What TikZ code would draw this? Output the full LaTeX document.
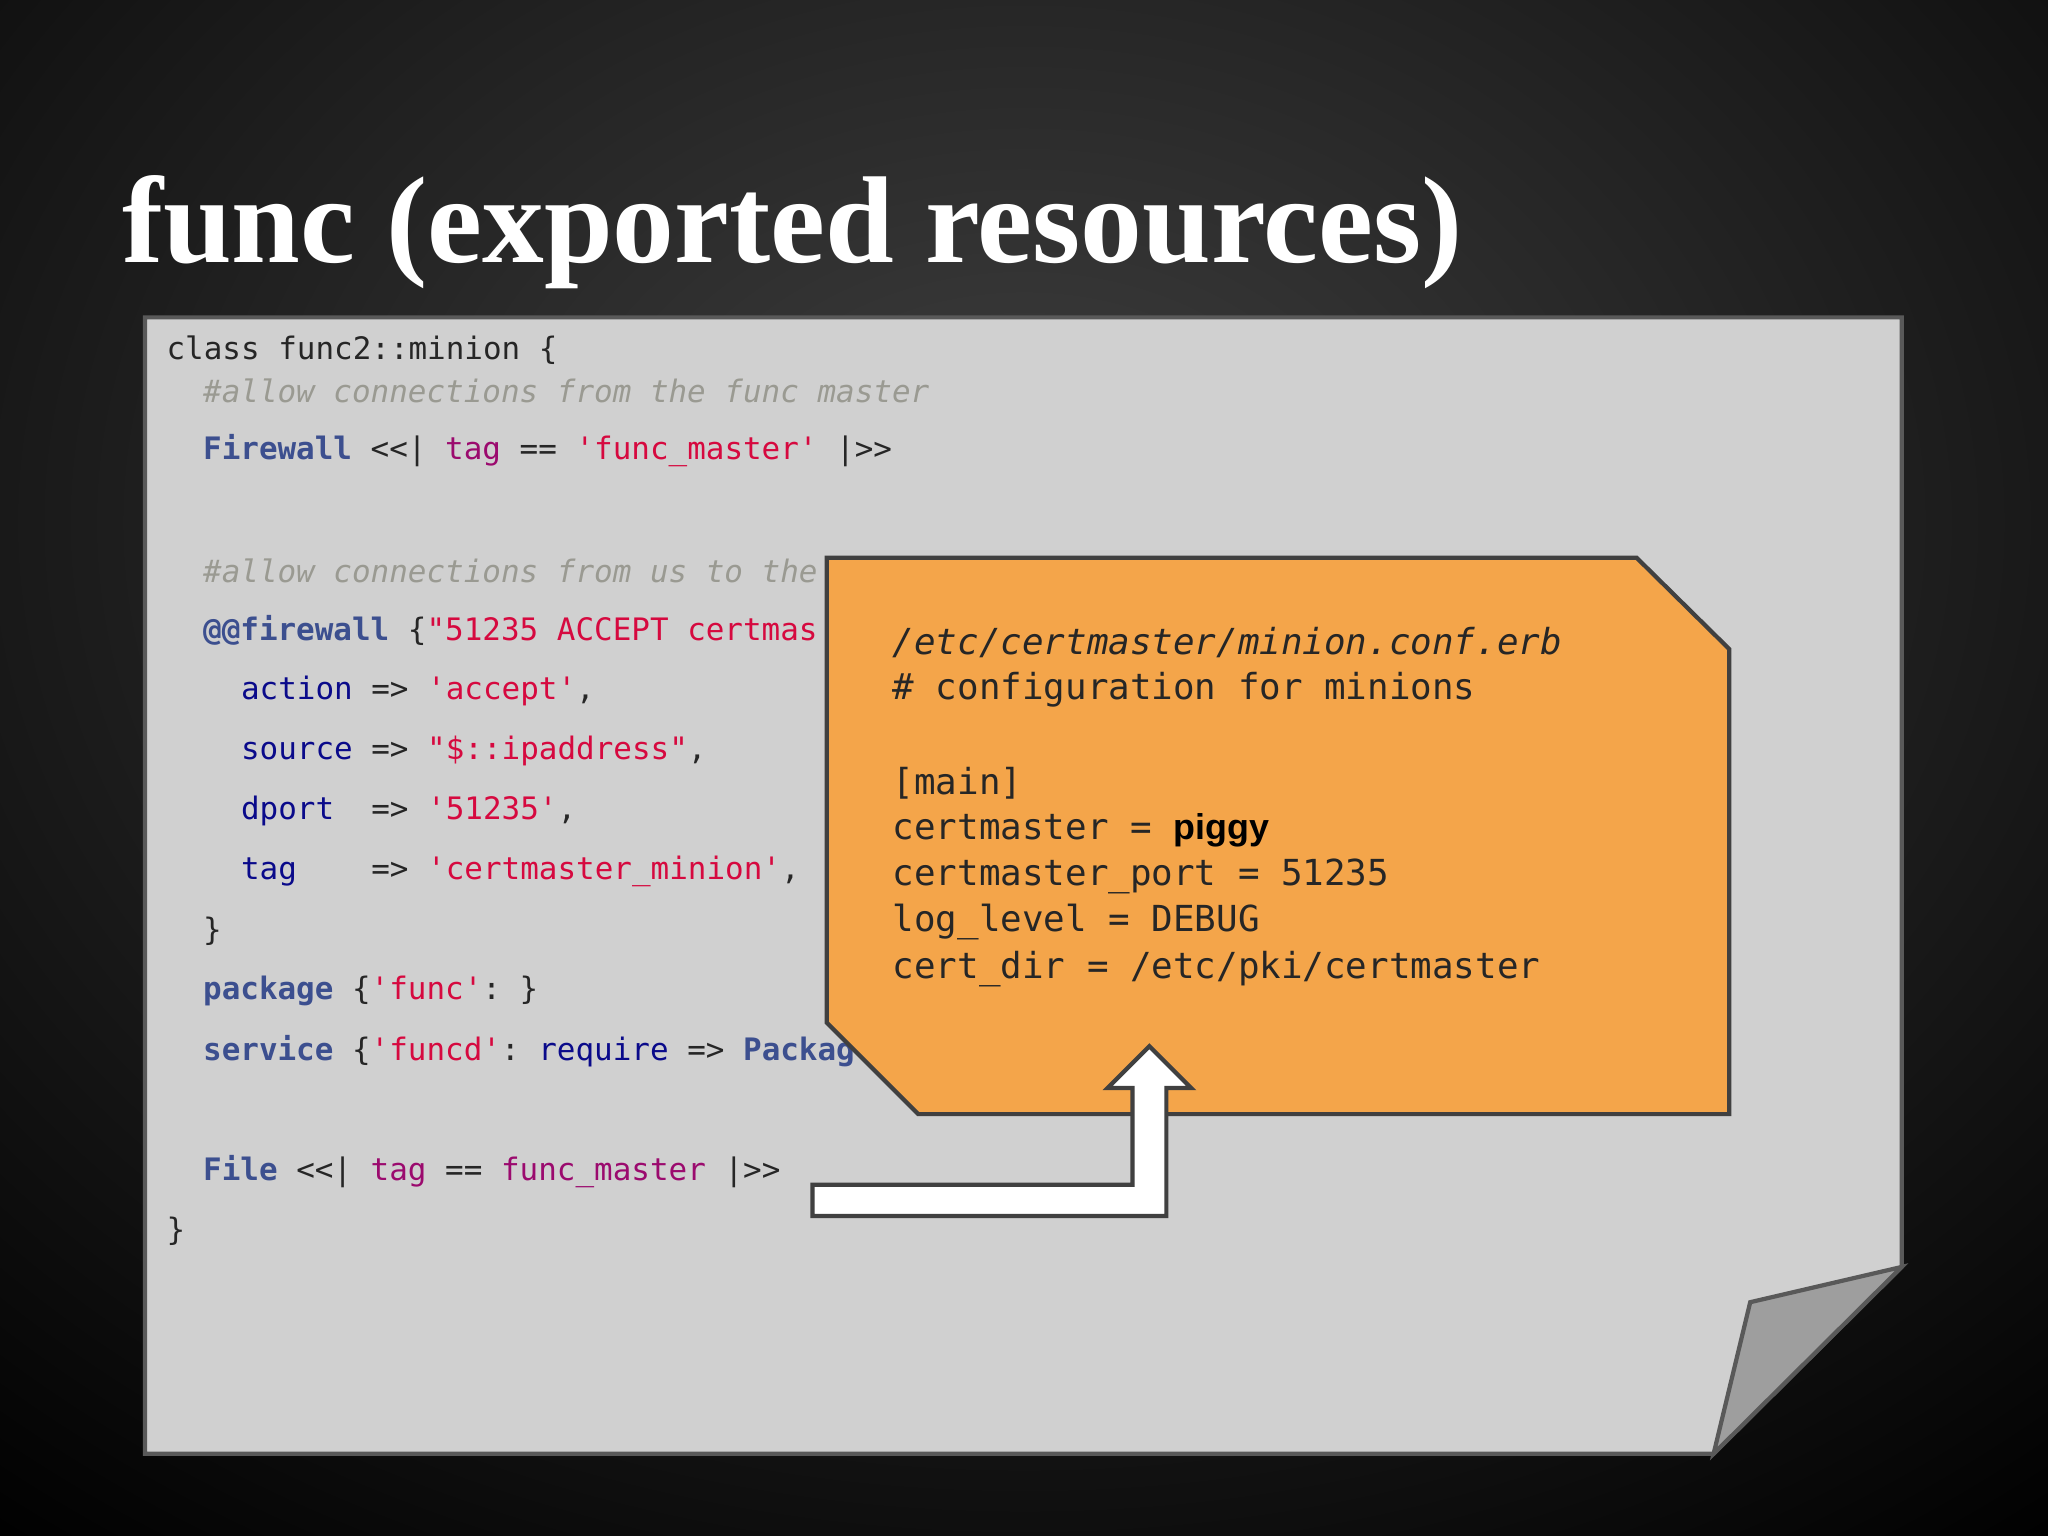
\documentclass[tikz,border=0pt]{standalone}
\usepackage{fontspec}
\setmonofont{DejaVu Sans Mono}
\setmainfont{Liberation Serif}
\usepackage{xcolor}
\definecolor{kw}{HTML}{3C4F8F}
\definecolor{tg}{HTML}{9B0A6E}
\definecolor{st}{HTML}{D6093F}
\definecolor{nv}{HTML}{0A0A8A}
\definecolor{cm}{HTML}{9A9A92}
\definecolor{paper}{HTML}{D0D0D0}
\definecolor{orng}{HTML}{F4A54A}
\newcommand{\K}[1]{\textcolor{kw}{\bfseries #1}}
\newcommand{\T}[1]{\textcolor{tg}{#1}}
\newcommand{\Sx}[1]{\textcolor{st}{#1}}
\newcommand{\N}[1]{\textcolor{nv}{#1}}
\newcommand{\Cm}[1]{\textcolor{cm}{\itshape #1}}
\begin{document}
\begin{tikzpicture}[x=0.013061cm,y=-0.013061cm,
  code/.style={anchor=west,inner sep=0pt,font=\ttfamily\fontsize{8.8}{10}\selectfont,text=black!85},
  conf/.style={anchor=west,inner sep=0pt,font=\ttfamily\fontsize{10.2}{12}\selectfont,text=black!85}]
\useasboundingbox (0,0) rectangle (1568,1176);
\shade[inner color=black!75,outer color=black!100] (-500,-600) rectangle (2068,1400);
\node[anchor=west,inner sep=0pt,text=white] (title) at (93,178)
 {\resizebox{13.4cm}{!}{\bfseries func (exported resources)}};
\draw[black!65,line width=1.2pt,fill=paper] (111,243) -- (1456,243) -- (1456,970) -- (1312,1113) -- (111,1113) -- cycle;
\draw[black!65,line width=1.2pt,fill=black!38] (1340,997) -- (1456,970) -- (1312,1113) -- cycle;
\node[code] (l1) at (127,268) {class func2::minion \{};
\node[code] (l2) at (155,299) {\Cm{\#allow connections from the func master}};
\node[code] (l3) at (155,345) {\K{Firewall} <<| \T{tag} == \Sx{'func\_master'} |>>};
\node[code] (l4) at (155,437) {\Cm{\#allow connections from us to the}};
\node[code] (l5) at (155,483) {\K{@@firewall} \{\Sx{"51235 ACCEPT certmas}};
\node[code] (l6) at (184,529) {\N{action} => \Sx{'accept'},};
\node[code] (l7) at (184,575) {\N{source} => \Sx{"\$::ipaddress"},};
\node[code] (l8) at (184,621) {\N{dport}~~=> \Sx{'51235'},};
\node[code] (l9) at (184,667) {\N{tag}~~~~=> \Sx{'certmaster\_minion'},};
\node[code] (l10) at (155,713) {\}};
\node[code] (l11) at (155,759) {\K{package} \{\Sx{'func'}: \}};
\node[code] (l12) at (155,805) {\K{service} \{\Sx{'funcd'}: \N{require} => \K{Packag}};
\node[code] (l13) at (155,897) {\K{File} <<| \T{tag} == \T{func\_master} |>>};
\node[code] (l14) at (127,943) {\}};
\draw[black!75,line width=1.2pt,fill=orng] (633,427) -- (1253,427) -- (1324,497) -- (1324,853) -- (703,853) -- (633,783) -- cycle;
\node[conf] (c1) at (683,492) {\itshape /etc/certmaster/minion.conf.erb};
\node[conf] (c2) at (683,528) {\# configuration for minions};
\node[conf] (c3) at (683,600) {[main]};
\node[conf] (c4) at (683,636) {certmaster = \textcolor{black}{\fontspec{Liberation Sans}\bfseries piggy}};
\node[conf] (c5) at (683,671) {certmaster\_port = 51235};
\node[conf] (c6) at (683,706) {log\_level = DEBUG};
\node[conf] (c7) at (683,742) {cert\_dir = /etc/pki/certmaster};
\draw[black!75,line width=1.2pt,fill=white] (622,907) -- (867,907) -- (867,833) -- (848,833) -- (880,801) -- (912,833) -- (893,833) -- (893,931) -- (622,931) -- cycle;
\end{tikzpicture}
\end{document}
